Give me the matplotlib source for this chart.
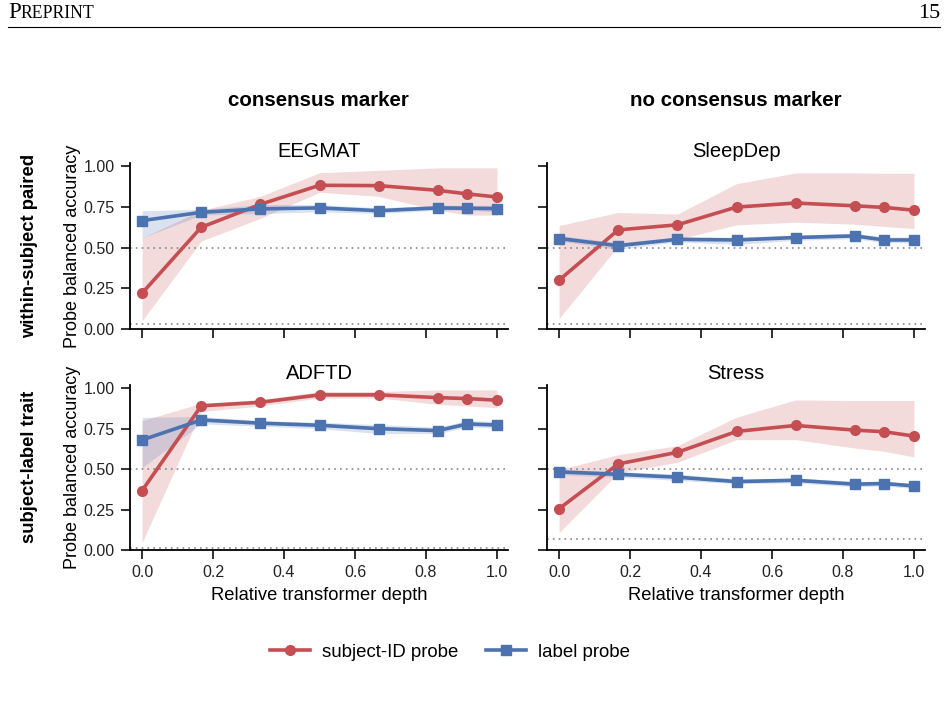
import matplotlib
matplotlib.use("Agg")
import matplotlib.pyplot as plt
import numpy as np
from matplotlib.lines import Line2D

plt.rcParams['font.family'] = ['Liberation Sans', 'DejaVu Sans']

depth = [0.0, 1/6, 1/3, 0.5, 2/3, 5/6, 11/12, 1.0]

datasets = ["EEGMAT", "SleepDep", "ADFTD", "Stress"]

# subject-ID probe
subj_mean = {
    "EEGMAT":   [0.22, 0.625, 0.766, 0.883, 0.881, 0.852, 0.830, 0.811],
    "SleepDep": [0.30, 0.609, 0.640, 0.749, 0.774, 0.757, 0.747, 0.730],
    "ADFTD":    [0.367, 0.891, 0.913, 0.959, 0.959, 0.942, 0.936, 0.926],
    "Stress":   [0.255, 0.532, 0.604, 0.733, 0.770, 0.741, 0.731, 0.704],
}
subj_lo = {
    "EEGMAT":   [0.05, 0.54, 0.68, 0.84, 0.815, 0.73, 0.70, 0.70],
    "SleepDep": [0.064, 0.51, 0.55, 0.64, 0.656, 0.644, 0.63, 0.617],
    "ADFTD":    [0.045, 0.856, 0.89, 0.94, 0.94, 0.90, 0.89, 0.88],
    "Stress":   [0.107, 0.476, 0.542, 0.682, 0.682, 0.630, 0.61, 0.575],
}
subj_hi = {
    "EEGMAT":   [0.56, 0.73, 0.815, 0.96, 0.975, 0.99, 0.99, 0.99],
    "SleepDep": [0.636, 0.716, 0.706, 0.893, 0.959, 0.959, 0.957, 0.957],
    "ADFTD":    [0.80, 0.907, 0.93, 0.98, 0.98, 0.99, 0.99, 0.99],
    "Stress":   [0.497, 0.589, 0.645, 0.821, 0.928, 0.924, 0.924, 0.924],
}
# label probe
label_mean = {
    "EEGMAT":   [0.666, 0.717, 0.738, 0.744, 0.727, 0.744, 0.742, 0.740],
    "SleepDep": [0.556, 0.512, 0.551, 0.547, 0.562, 0.572, 0.547, 0.547],
    "ADFTD":    [0.680, 0.804, 0.784, 0.771, 0.750, 0.738, 0.779, 0.773],
    "Stress":   [0.483, 0.468, 0.450, 0.423, 0.431, 0.407, 0.411, 0.396],
}
label_lo = {
    "EEGMAT":   [0.56, 0.70, 0.71, 0.72, 0.71, 0.73, 0.73, 0.72],
    "SleepDep": [0.54, 0.49, 0.535, 0.52, 0.545, 0.555, 0.53, 0.53],
    "ADFTD":    [0.51, 0.78, 0.765, 0.75, 0.72, 0.72, 0.76, 0.755],
    "Stress":   [0.465, 0.45, 0.43, 0.41, 0.415, 0.39, 0.395, 0.38],
}
label_hi = {
    "EEGMAT":   [0.727, 0.735, 0.765, 0.765, 0.745, 0.76, 0.76, 0.76],
    "SleepDep": [0.575, 0.53, 0.565, 0.565, 0.578, 0.588, 0.565, 0.565],
    "ADFTD":    [0.82, 0.825, 0.80, 0.79, 0.775, 0.76, 0.80, 0.795],
    "Stress":   [0.50, 0.485, 0.47, 0.44, 0.445, 0.425, 0.425, 0.41],
}
chance_subject = {"EEGMAT": 0.028, "SleepDep": 0.028, "ADFTD": 0.011, "Stress": 0.071}
chance_label = 0.5

col_titles = ["consensus marker", "no consensus marker"]
row_titles = ["within-subject paired", "subject-label trait"]
legend_labels = ["subject-ID probe", "label probe"]
xticks = [0.0, 0.2, 0.4, 0.6, 0.8, 1.0]
xticklabels = ["0.0", "0.2", "0.4", "0.6", "0.8", "1.0"]
yticks = [0.0, 0.25, 0.5, 0.75, 1.0]
yticklabels = ["0.00", "0.25", "0.50", "0.75", "1.00"]

RED = "#c44e52"
BLUE = "#4c72b0"

W, H = 948, 708
fig = plt.figure(figsize=(W/100, H/100), dpi=100)

def px(l, t, r, b):
    return [l/W, 1 - b/H, (r-l)/W, (b-t)/H]

rects = [px(130, 163, 508, 329), px(547, 163, 925, 329),
         px(130, 385, 508, 550), px(547, 385, 925, 550)]

for i, name in enumerate(datasets):
    ax = fig.add_axes(rects[i])
    ax.fill_between(depth, subj_lo[name], subj_hi[name], color=RED, alpha=0.2, lw=0)
    ax.fill_between(depth, label_lo[name], label_hi[name], color=BLUE, alpha=0.2, lw=0)
    ax.axhline(chance_label, color="#888888", ls=(0, (1, 2.5)), lw=1.2, zorder=1)
    ax.axhline(chance_subject[name], color="#888888", ls=(0, (1, 2.5)), lw=1.2, zorder=1)
    ax.plot(depth, subj_mean[name], color=RED, lw=2.6, marker="o", ms=7, zorder=3)
    ax.plot(depth, label_mean[name], color=BLUE, lw=2.6, marker="s", ms=7, zorder=3)
    ax.set_xlim(-0.034, 1.031)
    ax.set_ylim(0, 1.02)
    ax.set_xticks(xticks)
    ax.set_yticks(yticks)
    ax.spines['top'].set_visible(False)
    ax.spines['right'].set_visible(False)
    for s in ['left', 'bottom']:
        ax.spines[s].set_linewidth(1.3)
    ax.tick_params(direction='out', length=6.5, width=1.3, labelsize=11.5, colors='#222222', pad=4.5)
    ax.set_title(name, fontsize=14.5, pad=4)
    if i % 2 == 0:
        ax.set_yticklabels(yticklabels)
        ax.set_ylabel("Probe balanced accuracy", fontsize=13, labelpad=2)
    else:
        ax.set_yticklabels([])
    if i >= 2:
        ax.set_xticklabels(xticklabels)
        ax.set_xlabel("Relative transformer depth", fontsize=13.2, labelpad=5)
    else:
        ax.set_xticklabels([])

fig.text(318/W, 1 - 101/H, col_titles[0], ha='center', va='center', fontsize=14.8, fontweight='bold')
fig.text(736/W, 1 - 101/H, col_titles[1], ha='center', va='center', fontsize=14.8, fontweight='bold')
fig.text(30/W, 1 - 246/H, row_titles[0], ha='center', va='center', fontsize=13.3, fontweight='bold', rotation=90)
fig.text(30/W, 1 - 467/H, row_titles[1], ha='center', va='center', fontsize=13.3, fontweight='bold', rotation=90)

handles = [Line2D([], [], color=RED, lw=2.6, marker='o', ms=7),
           Line2D([], [], color=BLUE, lw=2.6, marker='s', ms=7)]
fig.legend(handles, legend_labels, loc='center', bbox_to_anchor=(450/W, 1 - 652/H),
           ncol=2, frameon=False, fontsize=13.4, handlelength=2.15, handletextpad=0.65,
           columnspacing=1.45)

# page header
fig.text(8/W, 1 - 13/H, "P", family='Liberation Serif', fontsize=16.5, va='center', ha='left')
fig.text(20/W, 1 - 14/H, "REPRINT", family='Liberation Serif', fontsize=12.8, va='center', ha='left')
fig.text(940/W, 1 - 13/H, "15", family='Liberation Serif', fontsize=16, va='center', ha='right')
fig.add_artist(Line2D([8/W, 940/W], [1 - 27/H, 1 - 27/H], color='black', lw=0.8))

fig.savefig("out.png", dpi=100)
